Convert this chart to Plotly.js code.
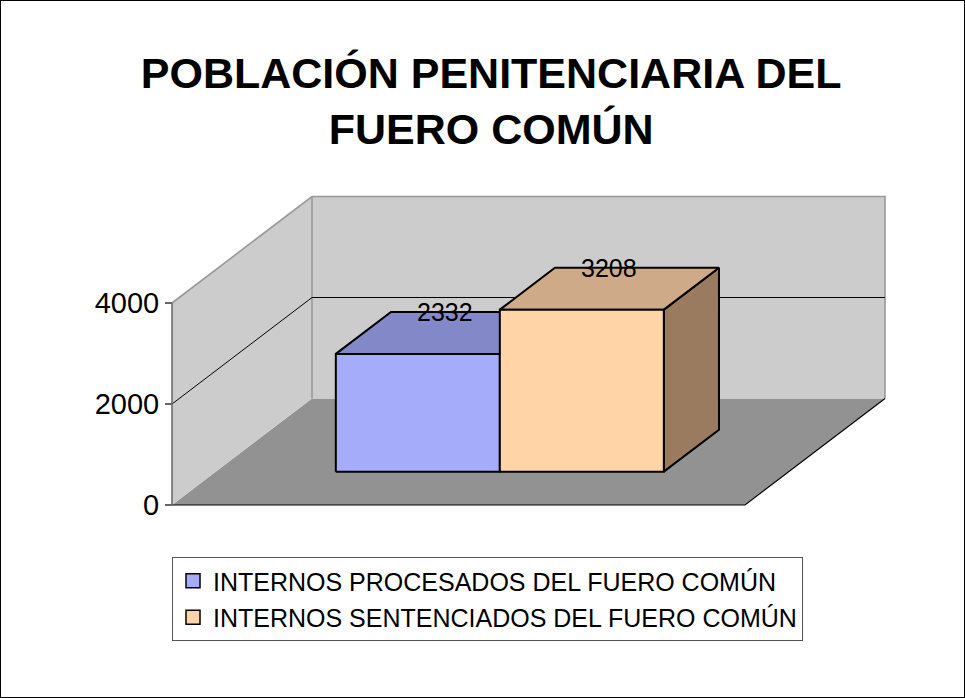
<!DOCTYPE html>
<html>
<head>
<meta charset="utf-8">
<script src="https://cdn.plot.ly/plotly-3.0.1.min.js"></script>
<style>
  html, body { margin: 0; padding: 0; background: #fff; }
  #wrap { position: relative; width: 965px; height: 698px; }
  #chart { width: 965px; height: 698px; }
  #frame { position: absolute; left: 0; top: 0; width: 965px; height: 698px; box-sizing: border-box; border: 1px solid #000; pointer-events: none; }
</style>
</head>
<body>
<div id="wrap"><div id="chart"></div><div id="frame"></div></div>
<script>
// ---- data ----
const chartTitle = 'POBLACIÓN PENITENCIARIA DEL<br>FUERO COMÚN';
const seriesNames = ['INTERNOS PROCESADOS DEL FUERO COMÚN', 'INTERNOS SENTENCIADOS DEL FUERO COMÚN'];
const seriesValues = [2332, 3208];
const yTickVals = [0, 2000, 4000];
const yTickText = ['0', '2000', '4000'];

// ---- styles ----
const frontColors = ['#A5ACFA', '#FFD5A8'];
const topColors = ['#8388C8', '#CFAA88'];
const sideColors = ['#6E72A8', '#9A7B5F'];
const FONT = 'Arial, "Liberation Sans", sans-serif';

// ---- geometry (pixel-based projection of the 3D box) ----
const PPU = 202 / 4000;           // pixels per value unit
const DEPTH_DX = 140;             // px shift of back plane
const DEPTH_DY = 106.5 / PPU;     // value-unit shift of back plane
const FLOOR_W = 573;              // floor width (px)
const WALL_TOP = yTickVals[yTickVals.length - 1];
const BAR_X0 = [120, 284];        // bar left edges (front-plane px)
const BAR_W = 164;
const D0 = 0.313, D1 = 0.707;     // bar depth range
const PAD = 10;

function P(x, v, d) { return [x + d * DEPTH_DX, v + d * DEPTH_DY]; }
function poly(pts, fill, lineColor, lineWidth) {
  const xs = pts.map(p => p[0]), ys = pts.map(p => p[1]);
  xs.push(xs[0]); ys.push(ys[0]);
  return { type: 'scatter', mode: 'lines', x: xs, y: ys, fill: 'toself', fillcolor: fill,
    line: { color: lineColor || fill, width: lineWidth === undefined ? 0 : lineWidth },
    hoverinfo: 'skip', showlegend: false };
}
function seg(pts, color, width) {
  return { type: 'scatter', mode: 'lines', x: pts.map(p => p[0]), y: pts.map(p => p[1]),
    line: { color: color, width: width }, hoverinfo: 'skip', showlegend: false };
}

const traces = [];
// floor
traces.push(poly([P(0,0,0), P(FLOOR_W,0,0), P(FLOOR_W,0,1), P(0,0,1)], '#929292'));
// left wall
traces.push(poly([P(0,0,0), P(0,0,1), P(0,WALL_TOP,1), P(0,WALL_TOP,0)], '#CCCCCC'));
// back wall
traces.push(poly([P(0,0,1), P(FLOOR_W,0,1), P(FLOOR_W,WALL_TOP,1), P(0,WALL_TOP,1)], '#CCCCCC'));
// wall edges
traces.push(seg([P(0,WALL_TOP,0), P(0,WALL_TOP,1), P(FLOOR_W,WALL_TOP,1), P(FLOOR_W,0,1)], '#999999', 1.6));
traces.push(seg([P(0,0,1), P(0,WALL_TOP,1)], '#999999', 1.6));
// gridlines
yTickVals.forEach(v => {
  if (v > 0 && v < WALL_TOP) traces.push(seg([P(0,v,0), P(0,v,1), P(FLOOR_W,v,1)], '#000000', 1));
});
// floor edges
traces.push(seg([P(0,0,0), P(FLOOR_W,0,0), P(FLOOR_W,0,1)], '#000000', 1.2));
// value axis line
traces.push(seg([P(0,0,0), P(0,WALL_TOP,0)], '#666666', 1.5));

// bars
seriesValues.forEach((v, i) => {
  const x0 = BAR_X0[i], x1 = x0 + BAR_W;
  traces.push(poly([P(x1,0,D0), P(x1,0,D1), P(x1,v,D1), P(x1,v,D0)], sideColors[i], '#000', 2));
  traces.push(poly([P(x0,v,D0), P(x1,v,D0), P(x1,v,D1), P(x0,v,D1)], topColors[i], '#000', 2));
  traces.push(poly([P(x0,0,D0), P(x1,0,D0), P(x1,v,D0), P(x0,v,D0)], frontColors[i], '#000', 2));
});

// legend entries
seriesNames.forEach((n, i) => {
  traces.push({ type: 'scatter', mode: 'markers', x: [null], y: [null], name: n,
    legendgroup: 'g' + i,
    marker: { symbol: 'square', size: 14, color: frontColors[i], line: { color: '#000', width: 1.5 } },
    hoverinfo: 'skip', showlegend: true });
});

// data labels
const annotations = seriesValues.map((v, i) => {
  const c = BAR_X0[i] + BAR_W / 2;
  const p = P(c, v, D1);
  return { x: c + 0.5 * (D0 + D1) * DEPTH_DX, y: p[1], xref: 'x', yref: 'y', text: String(v),
    showarrow: false, xanchor: 'center', yanchor: 'middle',
    font: { family: FONT, size: 25, color: '#000' } };
});

const L = 172 - PAD, R = 965 - 884 - PAD, T = 197 - PAD, B = 698 - 505 - PAD;
const plotW = 965 - L - R, plotH = 698 - T - B;

const layout = {
  width: 965, height: 698,
  margin: { l: L, r: R, t: T, b: B, pad: 0 },
  paper_bgcolor: '#fff', plot_bgcolor: 'rgba(0,0,0,0)',
  title: { text: chartTitle, x: 0.509, xanchor: 'center', y: 0.874, yanchor: 'middle',
    xref: 'container', yref: 'container',
    font: { family: FONT, size: 43, color: '#000', weight: 'bold' } },
  xaxis: { visible: false, range: [-PAD, plotW - PAD], fixedrange: true },
  yaxis: { range: [-PAD / PPU, (plotH - PAD) / PPU], anchor: 'free', position: PAD / plotW,
    showgrid: false, zeroline: false, showline: false,
    tickmode: 'array', tickvals: yTickVals, ticktext: yTickText,
    ticks: 'outside', ticklen: 7, tickwidth: 1.5, tickcolor: '#666',
    tickfont: { family: FONT, size: 29, color: '#000' }, fixedrange: true },
  showlegend: true,
  legend: { x: PAD / plotW, xanchor: 'left', y: -(557 - 505 - PAD) / plotH, yanchor: 'top',
    bgcolor: '#fff', bordercolor: '#555', borderwidth: 1,
    font: { family: FONT, size: 25, color: '#000' },
    traceorder: 'grouped', tracegroupgap: 1, itemclick: false, itemdoubleclick: false },
  annotations: annotations,
  hovermode: false
};

Plotly.newPlot('chart', traces, layout, { displayModeBar: false, staticPlot: true });
</script>
</body>
</html>
